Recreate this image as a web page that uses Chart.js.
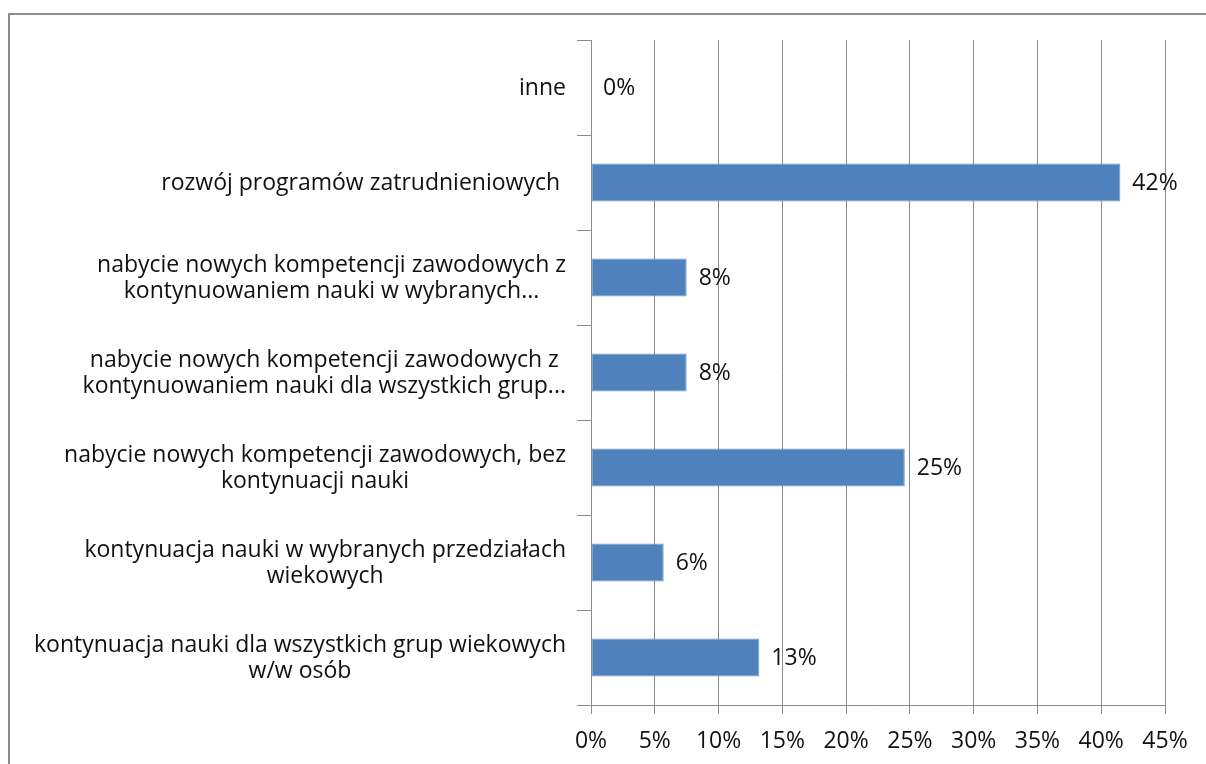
<!DOCTYPE html>
<html>
<head>
<meta charset="utf-8">
<script src="https://cdn.jsdelivr.net/npm/chart.js@4"></script>
<style>
  html, body { margin: 0; padding: 0; background: #fff; overflow: hidden; }
  #wrap { position: relative; width: 1206px; height: 764px; }
  #frame { position: absolute; left: 8px; top: 13px; width: 1300px; height: 900px; border: 2px solid #8c8c8c; box-sizing: border-box; }
  canvas { position: absolute; left: 0; top: 0; }
</style>
</head>
<body>
<div id="wrap">
  <div id="frame"></div>
  <canvas id="chart" width="1206" height="764"></canvas>
</div>
<script>
const categories = [
  ['inne'],
  ['rozwój programów zatrudnieniowych '],
  ['nabycie nowych kompetencji zawodowych z', 'kontynuowaniem nauki w wybranych...'],
  ['nabycie nowych kompetencji zawodowych z', 'kontynuowaniem nauki dla wszystkich grup...'],
  ['nabycie nowych kompetencji zawodowych, bez', 'kontynuacji nauki'],
  ['kontynuacja nauki w wybranych przedziałach', 'wiekowych'],
  ['kontynuacja nauki dla wszystkich grup wiekowych', 'w/w osób']
];
const values = [0, 41.5, 7.5, 7.5, 24.6, 5.7, 13.2];
const xTicks = [0, 5, 10, 15, 20, 25, 30, 35, 40, 45];

const FONT = "'Open Sans', sans-serif";
const LABEL_SIZE = 23;

// category labels: lines centred on each other, block right-aligned to the axis
const categoryLabels = {
  id: 'categoryLabels',
  afterDraw(chart) {
    const ctx = chart.ctx;
    const y = chart.scales.y;
    const right = y.right - 25;
    ctx.save();
    ctx.font = LABEL_SIZE + 'px ' + FONT;
    ctx.fillStyle = '#111';
    ctx.textAlign = 'center';
    ctx.textBaseline = 'middle';
    const lh = 26;
    categories.forEach((lines, i) => {
      const w = Math.max(...lines.map(l => ctx.measureText(l).width));
      const cx = right - w / 2;
      const cy = y.getPixelForValue(i) + 1;
      lines.forEach((l, j) => {
        ctx.fillText(l, cx, cy + (j - (lines.length - 1) / 2) * lh);
      });
    });
    ctx.restore();
  }
};

const valueLabels = {
  id: 'valueLabels',
  afterDatasetsDraw(chart) {
    const ctx = chart.ctx;
    const meta = chart.getDatasetMeta(0);
    ctx.save();
    ctx.font = LABEL_SIZE + 'px ' + FONT;
    ctx.fillStyle = '#111';
    ctx.textAlign = 'left';
    ctx.textBaseline = 'middle';
    meta.data.forEach((bar, i) => {
      ctx.fillText(Math.round(values[i]) + '%', bar.x + 12, bar.y + 1);
    });
    ctx.restore();
  }
};

new Chart(document.getElementById('chart'), {
  type: 'bar',
  data: {
    labels: categories.map(c => c.join(' ')),
    datasets: [{
      data: values,
      backgroundColor: '#4f81bd',
      borderColor: '#6f97c8',
      borderWidth: 1,
      borderSkipped: false,
      categoryPercentage: 1,
      barPercentage: 0.4
    }]
  },
  options: {
    indexAxis: 'y',
    responsive: false,
    animation: false,
    layout: { padding: { left: 0, right: 41, top: 40, bottom: 0 } },
    plugins: { legend: { display: false }, tooltip: { enabled: false } },
    scales: {
      x: {
        min: 0,
        max: 45,
        afterBuildTicks: s => { s.ticks = xTicks.map(v => ({ value: v })); },
        afterFit: s => { s.height = 59; },
        border: { color: '#8c8c8c', width: 1 },
        grid: { color: '#8c8c8c', lineWidth: 1, tickLength: 9 },
        ticks: {
          color: '#111',
          font: { family: FONT, size: LABEL_SIZE },
          padding: 14,
          callback: v => v + '%'
        }
      },
      y: {
        afterFit: s => { s.width = 591; },
        border: { color: '#8c8c8c', width: 1 },
        grid: { drawOnChartArea: false, color: '#8c8c8c', tickLength: 14, offset: true },
        ticks: { display: false }
      }
    }
  },
  plugins: [categoryLabels, valueLabels]
});
</script>
</body>
</html>
